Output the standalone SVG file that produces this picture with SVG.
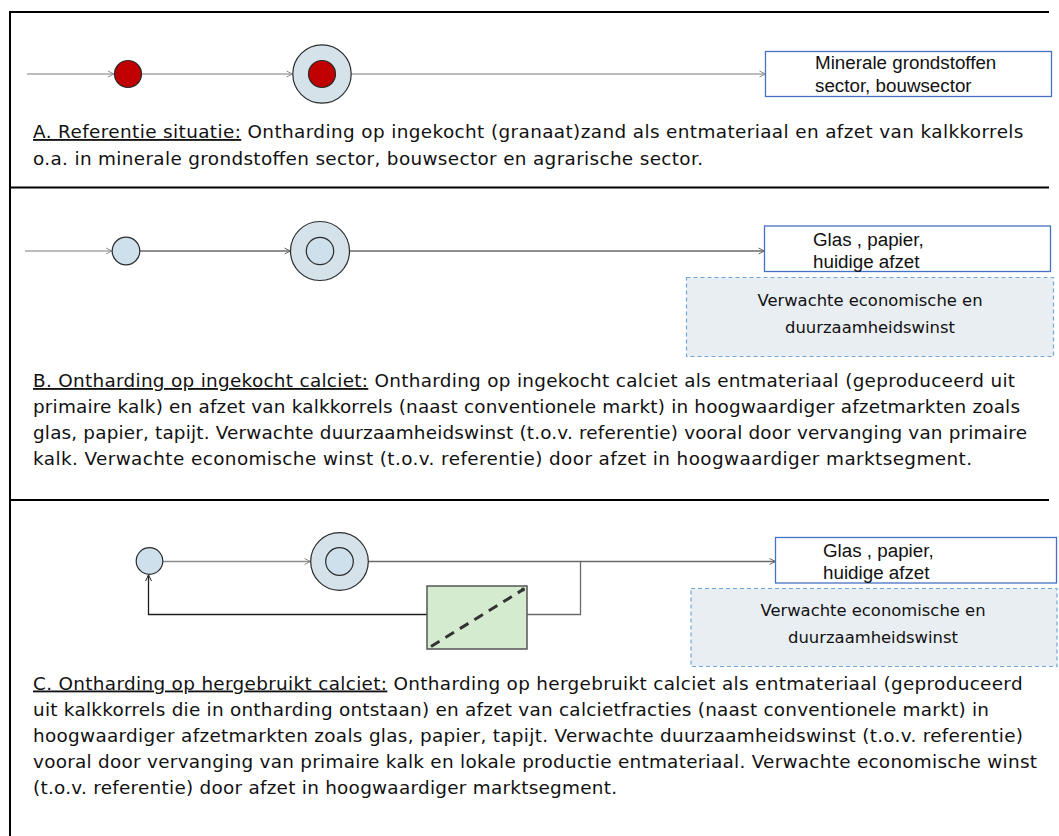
<svg xmlns="http://www.w3.org/2000/svg" width="1059" height="836" viewBox="0 0 1059 836">
  <style>
    .body { font-family: "DejaVu Sans", "Lucida Grande", Verdana, sans-serif; font-size: 18.4px; fill: #111; }
    .gain { font-family: "DejaVu Sans", "Lucida Grande", Verdana, sans-serif; font-size: 16.4px; fill: #111; text-anchor: middle; }
    .lbl { font-family: "Liberation Sans", Arial, sans-serif; font-size: 18.8px; fill: #111; }
    .u { text-decoration: underline; }
    .frame { stroke: #000; stroke-width: 2; fill: none; }
    .market { fill: #fff; stroke: #4472c4; stroke-width: 1.3; }
    .gainbox { fill: #e9eef3; stroke: #6fa8dc; stroke-width: 1.2; stroke-dasharray: 4 3; }
    .outer { fill: #d6e2ea; stroke: #2b2b2b; stroke-width: 1.2; }
    .inblue { fill: #cde0ec; stroke: #2b2b2b; stroke-width: 1.2; }
    .inred { fill: #c00000; stroke: #2b2b2b; stroke-width: 1.2; }
    .flowL { stroke: #a6a6a6; stroke-width: 1.4; fill: none; }
    .flowM { stroke: #8a8a8a; stroke-width: 1.3; fill: none; }
    .flowD { stroke: #6a6a6a; stroke-width: 1.3; fill: none; }
    .flowK { stroke: #1e1e1e; stroke-width: 1.3; fill: none; }
  </style>
  <defs>
    <marker id="arrL" markerWidth="8" markerHeight="8" refX="7" refY="4" orient="auto" markerUnits="userSpaceOnUse">
      <path d="M1,1 L7,4 L1,7" fill="none" stroke="#8f8f8f" stroke-width="1"/>
    </marker>
    <marker id="arrD" markerWidth="8" markerHeight="8" refX="7" refY="4" orient="auto" markerUnits="userSpaceOnUse">
      <path d="M1,1 L7,4 L1,7" fill="none" stroke="#666" stroke-width="1"/>
    </marker>
    <marker id="arrK" markerWidth="8" markerHeight="8" refX="7" refY="4" orient="auto" markerUnits="userSpaceOnUse">
      <path d="M1,1 L7,4 L1,7" fill="none" stroke="#1e1e1e" stroke-width="1"/>
    </marker>
  </defs>

  <rect width="1059" height="836" fill="#fff"/>

  <!-- table frame -->
  <g id="frame">
    <line class="frame" x1="9" y1="12" x2="1049" y2="12"/>
    <line class="frame" x1="10" y1="11" x2="10" y2="836"/>
    <line class="frame" x1="9" y1="187.5" x2="1049" y2="187.5"/>
    <line class="frame" x1="9" y1="500" x2="1049" y2="500"/>
  </g>

  <!-- connectors -->
  <g id="connectors">
    <!-- A -->
    <line class="flowL" x1="27" y1="74" x2="114" y2="74" marker-end="url(#arrL)"/>
    <line class="flowL" x1="141.5" y1="74" x2="292.5" y2="74" marker-end="url(#arrL)"/>
    <line class="flowL" x1="351" y1="74" x2="765.5" y2="74" marker-end="url(#arrL)"/>
    <!-- B -->
    <line class="flowL" x1="25" y1="251" x2="112" y2="251" marker-end="url(#arrL)"/>
    <line class="flowD" x1="140" y1="251" x2="290.5" y2="251" marker-end="url(#arrD)"/>
    <line class="flowD" x1="349.5" y1="251" x2="764.5" y2="251" marker-end="url(#arrD)"/>
    <!-- C -->
    <line class="flowM" x1="163" y1="561.5" x2="310.5" y2="561.5" marker-end="url(#arrL)"/>
    <line class="flowD" x1="368.3" y1="561.5" x2="775.5" y2="561.5" marker-end="url(#arrD)"/>
    <polyline class="flowD" points="580.5,561.5 580.5,614.5 527,614.5"/>
    <polyline class="flowK" points="427,614.5 148.5,614.5 148.5,575" marker-end="url(#arrK)"/>
  </g>

  <!-- section A: reference -->
  <g id="a-grain">
    <circle class="inred" cx="128" cy="74" r="13.5"/>
  </g>
  <g id="a-softener">
    <circle class="outer" cx="322" cy="74" r="29.2"/>
    <circle class="inred" cx="322" cy="74" r="13.5"/>
  </g>
  <g id="a-market">
    <rect class="market" x="765.5" y="51.5" width="286" height="45"/>
    <text class="lbl" x="815" y="69">Minerale grondstoffen</text>
    <text class="lbl" x="815" y="91.5">sector, bouwsector</text>
  </g>
  <g id="a-text">
    <text class="body" x="33" y="138" letter-spacing="0.39"><tspan class="u">A. Referentie situatie:</tspan> Ontharding op ingekocht (granaat)zand als entmateriaal en afzet van kalkkorrels</text>
    <text class="body" x="33" y="164.5" textLength="670" lengthAdjust="spacing">o.a. in minerale grondstoffen sector, bouwsector en agrarische sector.</text>
  </g>

  <!-- section B: purchased calcite -->
  <g id="b-grain">
    <circle class="inblue" cx="126" cy="251" r="13.8"/>
  </g>
  <g id="b-softener">
    <circle class="outer" cx="320" cy="251" r="29.5"/>
    <circle class="inblue" cx="320" cy="251" r="13.7"/>
  </g>
  <g id="b-market">
    <rect class="market" x="764.5" y="226" width="286" height="45.5"/>
    <text class="lbl" x="813" y="246">Glas , papier,</text>
    <text class="lbl" x="813" y="268.3">huidige afzet</text>
  </g>
  <g id="b-gain">
    <rect class="gainbox" x="686.5" y="277.5" width="367" height="79"/>
    <text class="gain" x="870" y="306">Verwachte economische en</text>
    <text class="gain" x="870" y="333">duurzaamheidswinst</text>
  </g>
  <g id="b-text">
    <text class="body" x="33" y="387" letter-spacing="0.3"><tspan class="u">B. Ontharding op ingekocht calciet:</tspan> Ontharding op ingekocht calciet als entmateriaal (geproduceerd uit</text>
    <text class="body" x="33" y="413" textLength="987" lengthAdjust="spacing">primaire kalk) en afzet van kalkkorrels (naast conventionele markt) in hoogwaardiger afzetmarkten zoals</text>
    <text class="body" x="33" y="439" textLength="994" lengthAdjust="spacing">glas, papier, tapijt. Verwachte duurzaamheidswinst (t.o.v. referentie) vooral door vervanging van primaire</text>
    <text class="body" x="33" y="465" textLength="939" lengthAdjust="spacing">kalk. Verwachte economische winst (t.o.v. referentie) door afzet in hoogwaardiger marktsegment.</text>
  </g>

  <!-- section C: reused calcite -->
  <g id="c-grain">
    <circle class="inblue" cx="149.5" cy="561" r="13.3"/>
  </g>
  <g id="c-softener">
    <circle class="outer" cx="339.5" cy="561.5" r="28.8"/>
    <circle class="inblue" cx="339.5" cy="561.5" r="13.8"/>
  </g>
  <g id="c-separator">
    <rect x="427" y="586" width="100" height="63" fill="#d4ebd0" stroke="#555" stroke-width="1.5"/>
    <line x1="431" y1="646.5" x2="524" y2="589" stroke="#333" stroke-width="3" stroke-dasharray="10 7"/>
    <circle cx="523" cy="589.5" r="2" fill="#333"/>
  </g>
  <g id="c-market">
    <rect class="market" x="775.5" y="537.5" width="281" height="45.5"/>
    <text class="lbl" x="823" y="557">Glas , papier,</text>
    <text class="lbl" x="823" y="579.3">huidige afzet</text>
  </g>
  <g id="c-gain">
    <rect class="gainbox" x="691" y="588.5" width="366" height="78"/>
    <text class="gain" x="873" y="616">Verwachte economische en</text>
    <text class="gain" x="873" y="643">duurzaamheidswinst</text>
  </g>
  <g id="c-text">
    <text class="body" x="33" y="689.5" letter-spacing="0.33"><tspan class="u">C. Ontharding op hergebruikt calciet:</tspan> Ontharding op hergebruikt calciet als entmateriaal (geproduceerd</text>
    <text class="body" x="33" y="715.5" textLength="956" lengthAdjust="spacing">uit kalkkorrels die in ontharding ontstaan) en afzet van calcietfracties (naast conventionele markt) in</text>
    <text class="body" x="33" y="741.5" textLength="990" lengthAdjust="spacing">hoogwaardiger afzetmarkten zoals glas, papier, tapijt. Verwachte duurzaamheidswinst (t.o.v. referentie)</text>
    <text class="body" x="33" y="767.5" textLength="1004" lengthAdjust="spacing">vooral door vervanging van primaire kalk en lokale productie entmateriaal. Verwachte economische winst</text>
    <text class="body" x="33" y="793.5" textLength="584" lengthAdjust="spacing">(t.o.v. referentie) door afzet in hoogwaardiger marktsegment.</text>
  </g>
</svg>
